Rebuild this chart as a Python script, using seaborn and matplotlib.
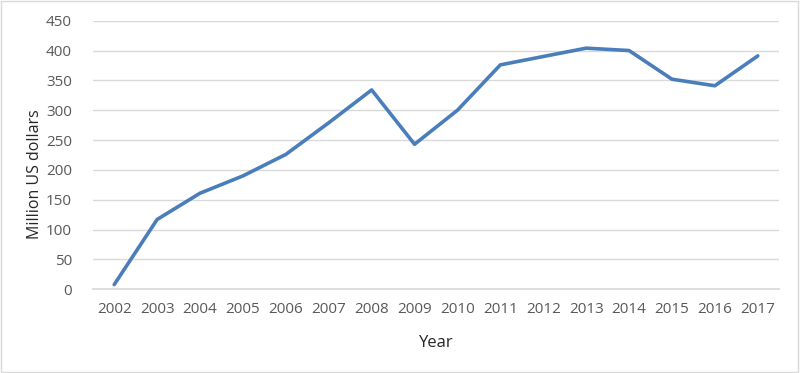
import matplotlib

matplotlib.use("Agg")
import matplotlib.pyplot as plt
import pandas as pd
import seaborn as sns
from matplotlib.patches import Rectangle

years = list(range(2002, 2018))
values = [8, 117, 161, 190, 226, 279, 334, 243, 300, 376, 390, 404, 400, 352, 341, 391]
y_ticks = [0, 50, 100, 150, 200, 250, 300, 350, 400, 450]

df = pd.DataFrame({"Year": years, "Value": values})

sns.set_theme(style="white")
plt.rcParams["font.family"] = ["Open Sans", "DejaVu Sans"]

fig = plt.figure(figsize=(8, 3.73), dpi=100)
ax = fig.add_axes([0.116, 0.2244, 0.858, 0.7201])

sns.lineplot(data=df, x="Year", y="Value", ax=ax, color="#4a7ebb", lw=2.6,
             solid_capstyle="round", solid_joinstyle="round")

ax.set_xlim(2001.5, 2017.5)
ax.set_ylim(0, 450)
ax.set_yticks(y_ticks)
ax.set_xticks(years)
ax.set_xticklabels([str(y) for y in years])
ax.yaxis.grid(True, color="#d9d9d9", lw=1)
ax.xaxis.grid(False)
for s in ["top", "right", "left"]:
    ax.spines[s].set_visible(False)
ax.spines["bottom"].set_color("#d9d9d9")
ax.tick_params(axis="both", length=0, labelsize=11, colors="#595959")
ax.tick_params(axis="y", pad=15)
ax.tick_params(axis="x", pad=9)
ax.set_xlabel("Year", fontsize=12, color="#262626", labelpad=13)
ax.set_ylabel("Million US dollars", fontsize=11.5, color="#262626")
ax.yaxis.set_label_coords(-0.073, 0.43)

fig.patches.append(Rectangle((0.001, 0.002), 0.997, 0.995, transform=fig.transFigure,
                             fill=False, edgecolor="#d9d9d9", lw=1))

fig.savefig("out.png", dpi=100)
